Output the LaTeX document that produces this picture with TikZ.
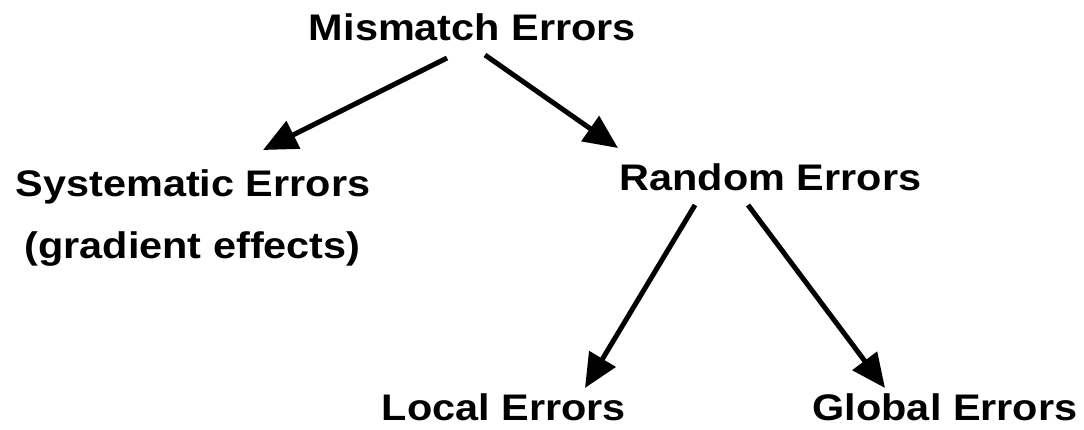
\documentclass[tikz,border=0pt]{standalone}
\usepackage{fontspec}
\usepackage{graphicx}
\setmainfont{Liberation Sans}
\usetikzlibrary{arrows.meta,calc}
\newcommand\lbltext[1]{\scalebox{1.12}[1]{\fontsize{37}{44}\selectfont\bfseries #1}}
\tikzset{
  lbl/.style={inner sep=0pt, anchor=base},
  arr/.style={line width=5pt, -{Triangle[length=34pt,width=30pt]}}
}
\begin{document}
\begin{tikzpicture}[x=1pt,y=1pt]
\useasboundingbox[fill=white] (0,0) rectangle (1084,-429);
\node[lbl] (mis) at (472.5,-40) {\lbltext{Mismatch Errors}};
\node[lbl] (sys) at (193,-196) {\lbltext{Systematic Errors}};
\node[lbl] (grad) at (192.5,-258) {\lbltext{(gradient effects)}};
\node[lbl] (ran) at (770.5,-190) {\lbltext{Random Errors}};
\node[lbl] (loc) at (504,-420) {\lbltext{Local Errors}};
\node[lbl] (glo) at (945,-420) {\lbltext{Global Errors}};
\draw[arr] ($(mis.base)+(-25.5,-18)$) -- ($(sys.base)+(70,46)$);
\draw[arr] ($(mis.base)+(12.5,-15)$) -- ($(ran.base)+(-152.5,42)$);
\draw[arr] ($(ran.base)+(-75.5,-15)$) -- ($(loc.base)+(81,32)$);
\draw[arr] ($(ran.base)+(-22.5,-15)$) -- ($(glo.base)+(-60,32)$);
\end{tikzpicture}
\end{document}
